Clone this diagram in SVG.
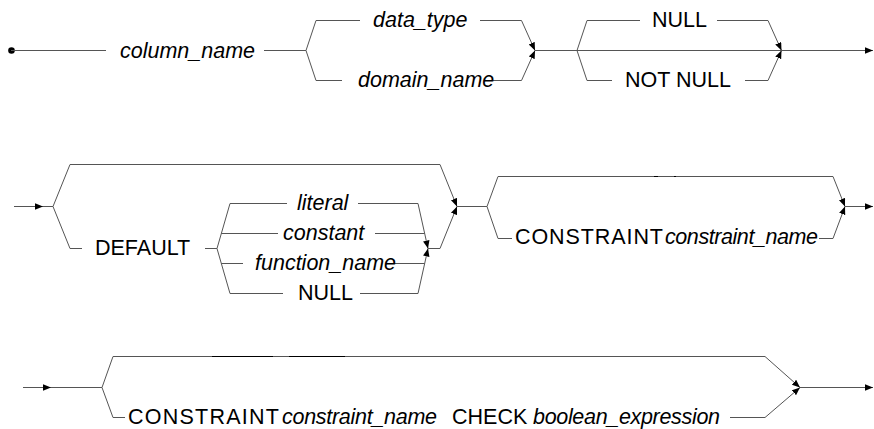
<svg xmlns="http://www.w3.org/2000/svg" width="874" height="429" viewBox="0 0 874 429">
<defs>
<marker id="arr" markerUnits="userSpaceOnUse" markerWidth="10" markerHeight="8" refX="8" refY="3.25" orient="auto">
<path d="M0,0 L8,3.25 L0,6.5 Z" fill="#000"/>
</marker>
<style>
.ln{fill:none;stroke:#555;stroke-width:1}
.dk{fill:none;stroke:#000;stroke-width:1}
.a{marker-end:url(#arr)}
text{font-family:"Liberation Sans",Arial,sans-serif;font-size:21.5px;fill:#000}
.it{font-style:italic}
</style>
</defs>
<rect width="874" height="429" fill="#fff"/>
<g id="connectors">
<circle cx="11.5" cy="50.5" r="3.3" fill="#000"/>
<path class="ln" d="M11,50.5 H106"/>
<path class="ln" d="M264,50.5 H306 M316,20.5 L306,50.5 L316,80.5 M316,20.5 H360 M316,80.5 H342"/>
<path class="ln a" d="M480,20.5 H521.5 L535,50.5"/>
<path class="ln a" d="M493,80.5 H521.5 L535,50.5"/>
<path class="ln" d="M535,50.5 H577 M587,20.5 L577,50.5 L587,80.5 M587,20.5 H640 M587,80.5 H612"/>
<path class="ln a" d="M717,20.5 H768 L781.5,50.5"/>
<path class="ln a" d="M745,80.5 H768 L781.5,50.5"/>
<path class="ln a" d="M577,50.5 H873"/>

<path class="ln a" d="M14,206.5 H43"/>
<path class="ln" d="M43,206.5 H53 M70,164.5 L53,206.5 L70,248.5 M70,248.5 H82 M205,248.5 H217"/>
<path class="ln a" d="M70,164.5 H440 L457,206.5"/>
<path class="ln" d="M230,203.5 L217,248.5 L230,293.5 M230,203.5 H287 M230,293.5 H283"/>
<path class="ln a" d="M358,203.5 H418 L428,248.5"/>
<path class="ln a" d="M360,293.5 H418 L428,248.5"/>
<path class="ln" d="M221.3,233.5 H278 M375,233.5 H424.7 M221.3,263.5 H243 M393,263.5 H424.7"/>
<path class="ln a" d="M428,248.5 H440 L457,206.5"/>
<path class="ln" d="M457,206.5 H487 M498,176.5 L487,206.5 L498,238.5 M498,238.5 H512"/>
<path class="ln a" d="M498,176.5 H833 L845,206.5"/>
<path class="ln a" d="M819,238.5 H833 L845,206.5"/>
<path class="ln a" d="M845,206.5 H873"/>
<path class="dk" d="M654,176.5 H658 M674,176.5 H676"/>

<path class="ln a" d="M23,387.5 H51"/>
<path class="ln" d="M51,387.5 H102 M113,356.5 L102,387.5 L113,417.5 M113,417.5 H125"/>
<path class="ln a" d="M113,356.5 H765 L800,387.5"/>
<path class="ln a" d="M730,417.5 H765 L800,387.5"/>
<path class="ln a" d="M800,387.5 H873"/>
<path class="dk" d="M212,356.5 H273 M289,356.5 H345"/>
</g>
<g id="column_name"><text class="it" x="120" y="58">column_name</text></g>
<g id="data_type"><text class="it" x="373" y="27">data_type</text></g>
<g id="domain_name"><text class="it" x="358" y="87">domain_name</text></g>
<g id="null1"><text x="652" y="27">NULL</text></g>
<g id="not_null"><text x="625" y="87">NOT NULL</text></g>
<g id="default"><text x="95" y="255">DEFAULT</text></g>
<g id="literal"><text class="it" x="297" y="210">literal</text></g>
<g id="constant"><text class="it" x="283" y="240">constant</text></g>
<g id="function_name"><text class="it" x="255" y="270">function_name</text></g>
<g id="null2"><text x="298" y="300">NULL</text></g>
<g id="constraint1"><text y="244"><tspan x="515" textLength="148">CONSTRAINT</tspan><tspan class="it" x="665" textLength="153">constraint_name</tspan></text></g>
<g id="constraint_check"><text y="423.5"><tspan x="128" textLength="151">CONSTRAINT</tspan><tspan class="it" x="282" textLength="155">constraint_name</tspan><tspan x="452">CHECK</tspan><tspan class="it" x="533" textLength="187">boolean_expression</tspan></text></g>
</svg>
